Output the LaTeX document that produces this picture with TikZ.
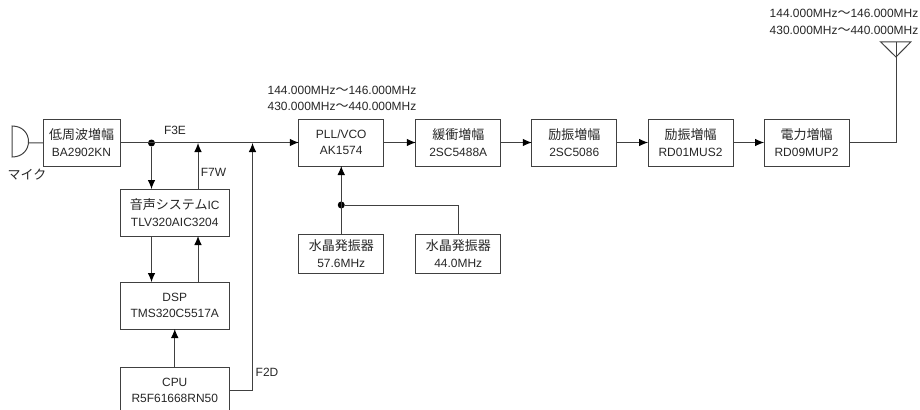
\documentclass[tikz,border=0pt]{standalone}
\usepackage{fontspec}
\setmainfont[Scale=0.92]{Liberation Sans}
\newfontfamily\cjk{Noto Sans CJK JP}
\usetikzlibrary{arrows.meta}
\definecolor{ink}{gray}{0.25}
\tikzset{
  blk/.style={draw=ink,line width=0.75pt,align=center,outer sep=0pt,inner sep=0pt,text=black!85,
              minimum width=63.75pt,minimum height=35.25pt},
  wideblk/.style={blk,minimum width=81.75pt},
  jct/.style={circle,fill=black,inner sep=0pt,minimum size=5.25pt,outer sep=0pt},
  lbl/.style={inner sep=0pt,text=black!85,align=center},
  wire/.style={draw=ink,line width=0.75pt},
}
\begin{document}
\begin{tikzpicture}[x=0.75pt,y=-0.75pt,font=\fontsize{9.75}{12.3}\selectfont,
                    >={Latex[length=6.75pt,width=5.75pt,color=black]}]

  \clip (0,0) rectangle (920,410);

  % audio side
  \node[blk,minimum width=57.75pt] (lf) at (81.5,142.5) {{\cjk 低周波増幅}\\BA2902KN};
  \node[wideblk] (ic) at (174.75,212.5) {{\cjk 音声システム}IC\\TLV320AIC3204};
  \node[wideblk] (dsp) at (174.75,305.5) {DSP\\TMS320C5517A};
  \node[wideblk] (cpu) at (174.75,390.5) {CPU\\R5F61668RN50};

  % transmit chain
  \node[blk] (pll) at (341.25,142.5) {PLL/VCO\\AK1574};
  \node[blk] (buf) at (458.25,142.5) {{\cjk 緩衝増幅}\\2SC5488A};
  \node[blk] (drv1) at (574.25,142.5) {{\cjk 励振増幅}\\2SC5086};
  \node[blk] (drv2) at (690.5,142.5) {{\cjk 励振増幅}\\RD01MUS2};
  \node[blk] (pa) at (806.5,142.5) {{\cjk 電力増幅}\\RD09MUP2};

  % crystals
  \node[blk,minimum height=29.25pt] (xtal1) at (341.25,253.5) {{\cjk 水晶発振器}\\57.6MHz};
  \node[blk,minimum height=29.25pt] (xtal2) at (458.25,253.5) {{\cjk 水晶発振器}\\44.0MHz};

  % junctions
  \node[jct] (jmic) at (151.5,143) {};
  \node[jct] (jx) at (341.25,205) {};
  \coordinate (f7) at (198,143);
  \coordinate (f2) at (252.5,143);
  \coordinate (mic) at (28,143);
  \coordinate (ant) at (896,57);

  % mic and antenna
  \draw[wire] (12,126) .. controls (34,126) and (34,157) .. (12,157) -- cycle;
  \draw[wire] (880.7,42) -- (910.7,42) -- (ant) -- cycle;
  \draw[wire] (896,42) -- (ant);
  \draw[wire] (mic) -- (lf);
  \draw[wire] (pa) -| (ant);

  % connectors
  \foreach \a/\b in {lf/pll,pll/buf,buf/drv1,drv1/drv2,drv2/pa} {
    \draw[wire,->] (\a) -- (\b);
  }
  \draw[wire,->] (jmic) -- (jmic |- ic.north);
  \draw[wire,->] (f7 |- ic.north) -- (f7);
  \draw[wire,->] (jmic |- ic.south) -- (jmic |- dsp.north);
  \draw[wire,->] (f7 |- dsp.north) -- (f7 |- ic.south);
  \draw[wire,->] (cpu) -- (dsp);
  \draw[wire,->] (cpu.east) -| (f2);
  \draw[wire,->] (xtal1) -- (pll);
  \draw[wire] (xtal2) |- (jx);

  % labels
  \node[lbl] (lmic) at (27,175) {\cjk マイク};
  \node[lbl] (lf3e) at (175,130.5) {F3E};
  \node[lbl] (lf7w) at (213.5,172) {F7W};
  \node[lbl] (lf2d) at (267,372) {F2D};
  \node[lbl] (fpll) at (342,98.5) {144.000MHz{\cjk ～}146.000MHz\\430.000MHz{\cjk ～}440.000MHz};
  \node[lbl] (fant) at (844,22) {144.000MHz{\cjk ～}146.000MHz\\430.000MHz{\cjk ～}440.000MHz};

\end{tikzpicture}
\end{document}
